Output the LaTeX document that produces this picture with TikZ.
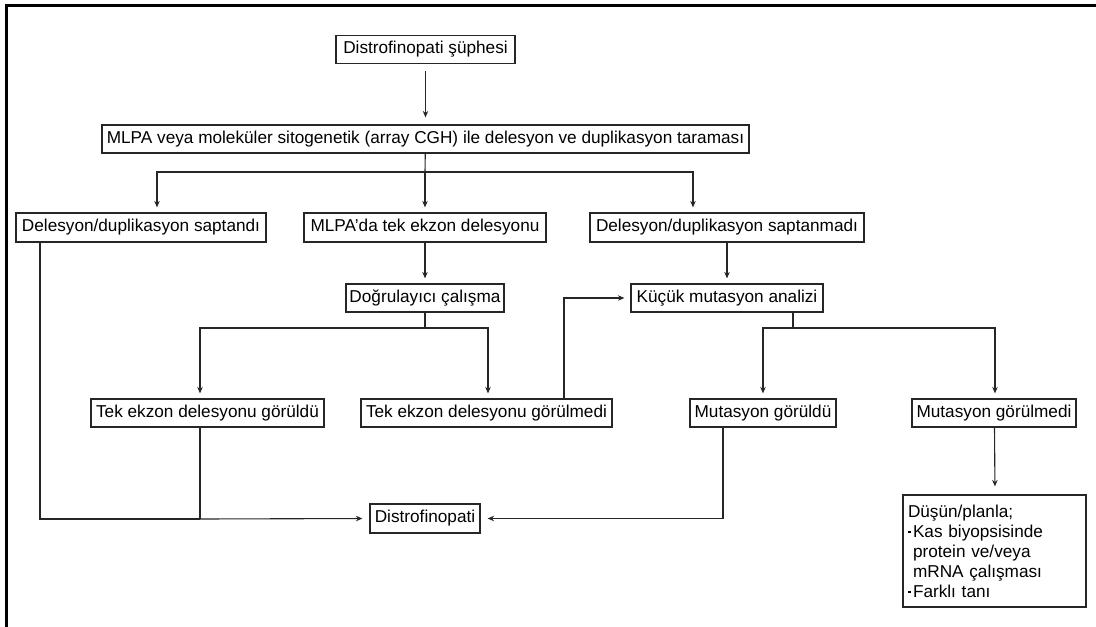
\documentclass[tikz,border=0pt]{standalone}
\usepackage{fontspec}
\setmainfont{Liberation Sans}
\usepackage{tikz}
\usetikzlibrary{arrows.meta,positioning,calc}
\newcommand{\maddeimi}{\makebox[5pt][l]{\raisebox{4pt}{\rule{2.6pt}{2.6pt}}}}

\begin{document}
\begin{tikzpicture}[x=1pt, y=-1pt, font=\fontsize{17.2}{20}\selectfont,
  bx/.style={draw=black!85, line width=1.2pt, minimum height=28pt, inner xsep=2pt, inner ysep=2pt},
  arr/.style={-{Stealth[length=6.5pt, width=5.5pt]}, line width=1.1pt, draw=black!85, shorten >=5pt},
  ln/.style={line width=1.1pt, draw=black!85}]
  \useasboundingbox (0,0) rectangle (1096,627);
  % cerceve
  \draw[line width=3pt] (6.5,627) -- (6.5,5.5) -- (1096,5.5);
  % kutular
  \node[bx, minimum width=179pt] (susp) at (425.5,49.5) {Distrofinopati şüphesi};
  \node[bx, minimum width=647pt] (mlpa) at (425.5,139) {MLPA veya moleküler sitogenetik (array CGH) ile delesyon ve duplikasyon taraması};
  \node[bx, minimum width=250pt, minimum height=29pt] (found) at (141,227.5) {Delesyon/duplikasyon saptandı};
  \node[bx, minimum width=242pt, minimum height=29pt] (single) at (425,227.5) {MLPA’da tek ekzon delesyonu};
  \node[bx, minimum width=274pt, minimum height=29pt] (notfound) at (727,227.5) {Delesyon/duplikasyon saptanmadı};
  \node[bx, minimum width=158pt] (confirm) at (425,298) {Doğrulayıcı çalışma};
  \node[bx, minimum width=192pt] (small) at (727,298) {Küçük mutasyon analizi};
  \node[bx, minimum width=233pt] (seen) at (207.5,413) {Tek ekzon delesyonu görüldü};
  \node[bx, minimum width=251pt] (unseen) at (486.5,413) {Tek ekzon delesyonu görülmedi};
  \node[bx, minimum width=146pt] (mutseen) at (763,413) {Mutasyon görüldü};
  \node[bx, minimum width=164pt] (mutunseen) at (994,413) {Mutasyon görülmedi};
  \node[bx, minimum width=110pt, minimum height=29pt] (dmd) at (425,518.5) {Distrofinopati};
  \node[bx, text width=173pt, align=left, minimum height=112pt, inner xsep=5pt] (plan) at (994.5,551)
    {Düşün/planla;\\\maddeimi Kas biyopsisinde\\\hspace*{5pt}protein ve/veya\\\hspace*{5pt}mRNA çalışması\\\maddeimi Farklı tanı};
  % baglantilar
  \coordinate (j1) at (425,172);
  \coordinate (j2) at (425,328);
  \coordinate (j3) at (793,328);
  \coordinate (j4) at (200,519);
  \draw[arr, shorten <=7pt, shorten >=7pt] (susp) -- (mlpa);
  \draw[ln] (mlpa) -- (j1);
  \foreach \t/\s in {found/16pt, single/0pt, notfound/-34pt} {
    \draw[arr] (j1) -| ([xshift=\s]\t.north);
  }
  \draw[arr] (single) -- (confirm);
  \draw[arr] (notfound) -- (small);
  \draw[ln] (confirm) -- (j2);
  \foreach \t/\s in {seen/-7.5pt, unseen/1.5pt} {
    \draw[arr] (j2) -| ([xshift=\s]\t.north);
  }
  \draw[ln] ([xshift=66pt]small.south) -- (j3);
  \foreach \t/\s in {mutseen/0pt, mutunseen/1pt} {
    \draw[arr] (j3) -| ([xshift=\s]\t.north);
  }
  \draw[arr, shorten >=6pt] ([xshift=77.5pt]unseen.north) |- (small.west);
  \draw[ln] ([xshift=-101pt]found.south) |- (j4);
  \draw[ln] ([xshift=-7.5pt]seen.south) -- (j4);
  \draw[arr, shorten >=7pt] (j4) -- (dmd.west);
  \draw[arr, shorten >=7pt] ([xshift=-40pt]mutseen.south) |- (dmd.east);
  \draw[arr, shorten >=8pt] ([xshift=0.5pt]mutunseen.south) -- ([xshift=0.5pt]plan.north);
\end{tikzpicture}
\end{document}
